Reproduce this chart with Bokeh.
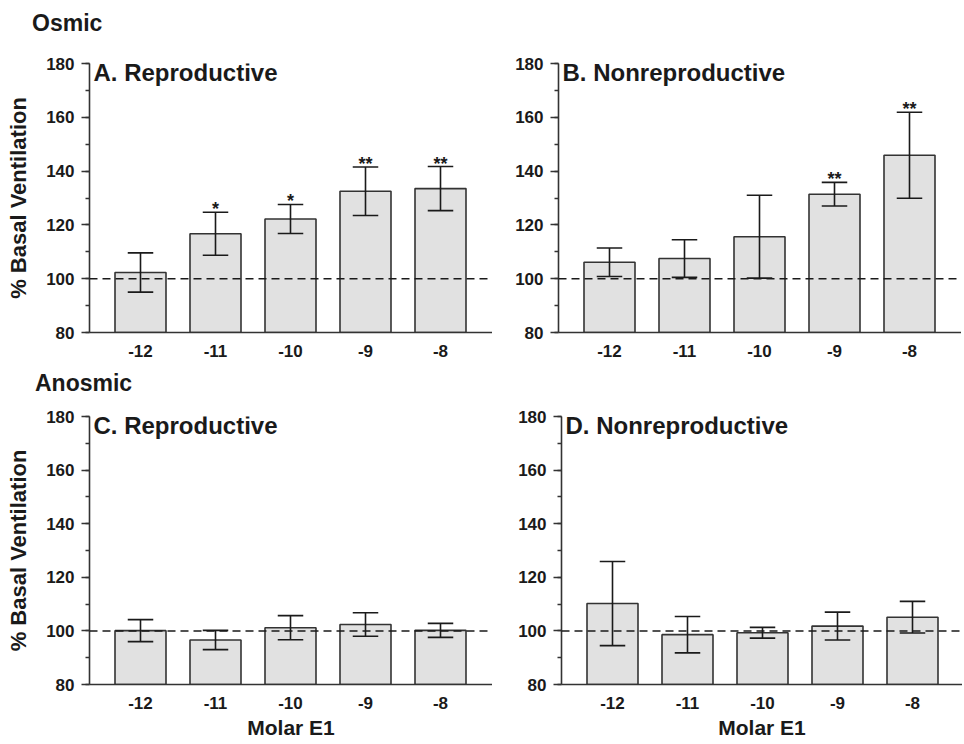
from bokeh.plotting import figure
from bokeh.models import Range1d, Span, Label, FixedTicker, SingleIntervalTicker, ColumnDataSource, Div
from bokeh.layouts import row, column
from bokeh.embed import file_html
from bokeh.resources import INLINE
from bokeh.core.properties import value

# ---- data ----
concentrations = ["-12", "-11", "-10", "-9", "-8"]

a_mean = [102.3, 116.7, 122.2, 132.5, 133.5]
a_sem = [7.3, 8.0, 5.4, 9.0, 8.2]
a_sig = ["", "*", "*", "**", "**"]

b_mean = [106.1, 107.5, 115.6, 131.4, 145.9]
b_sem = [5.3, 7.0, 15.4, 4.4, 16.0]
b_sig = ["", "", "", "**", "**"]

c_mean = [100.1, 96.6, 101.2, 102.4, 100.2]
c_sem = [4.1, 3.6, 4.5, 4.4, 2.6]
c_sig = ["", "", "", "", ""]

d_mean = [110.2, 98.6, 99.3, 101.8, 105.1]
d_sem = [15.7, 6.8, 2.0, 5.2, 5.9]
d_sig = ["", "", "", "", ""]

baseline_pct = 100
y_min, y_max = 80, 180
y_tick_step = 20

panel_titles = ["A. Reproductive", "B. Nonreproductive", "C. Reproductive", "D. Nonreproductive"]
group_titles = ["Osmic", "Anosmic"]
y_title = "% Basal Ventilation"
x_title = "Molar E1"

FONT = "Liberation Sans"
INK = "#1a1a1a"
BAR_W = 0.68
CAP_HALF = 0.17
PX_PER_UNIT = 75.0


def make_panel(mean, sem, sig, title, left_border, top_border, bottom_border,
               frame_w, frame_h, x_standoff, ylabel=None, xlabel=None):
    xs = list(range(1, len(concentrations) + 1))
    p = figure(frame_width=frame_w, frame_height=frame_h,
               x_range=Range1d(0.32, 0.32 + frame_w / PX_PER_UNIT),
               y_range=Range1d(y_min, y_max),
               min_border_left=left_border, min_border_right=0,
               min_border_top=top_border, min_border_bottom=bottom_border,
               output_backend="svg", toolbar_location=None)
    p.outline_line_color = None
    p.grid.visible = False
    p.background_fill_color = "white"
    p.border_fill_color = "white"

    lo = [m - s for m, s in zip(mean, sem)]
    hi = [m + s for m, s in zip(mean, sem)]
    src = ColumnDataSource(dict(
        x=xs, mean=mean, lo=lo, hi=hi,
        cl=[x - CAP_HALF for x in xs], cr=[x + CAP_HALF for x in xs],
        sig=sig))

    p.vbar(x="x", top="mean", bottom=y_min, width=BAR_W, fill_color="#e1e1e1",
           line_color="#333333", line_width=1.6, source=src)
    p.add_layout(Span(location=baseline_pct, dimension="width", line_color=INK,
                      line_width=1.5, line_dash="8 5"))
    p.segment(x0="x", y0="lo", x1="x", y1="hi", line_color=INK, line_width=1.6, source=src)
    p.segment(x0="cl", y0="hi", x1="cr", y1="hi", line_color=INK, line_width=1.6, source=src)
    p.segment(x0="cl", y0="lo", x1="cr", y1="lo", line_color=INK, line_width=1.6, source=src)
    p.text(x="x", y="hi", text="sig", text_align="center", text_baseline="alphabetic",
           y_offset=-3, text_font=value(FONT), text_font_style="bold",
           text_font_size="18px", text_color=INK, source=src)

    # y axis
    yax = p.yaxis[0]
    yax.ticker = SingleIntervalTicker(interval=y_tick_step, num_minor_ticks=2)
    yax.major_tick_out = 8
    yax.major_tick_in = 0
    yax.minor_tick_out = 4
    yax.minor_tick_in = 0
    yax.major_label_standoff = 7
    yax.axis_line_width = 1.6
    yax.axis_line_color = "#333333"
    yax.major_tick_line_color = "#333333"
    yax.major_tick_line_width = 1.5
    yax.minor_tick_line_color = "#333333"
    yax.minor_tick_line_width = 1.5
    yax.major_label_text_font = FONT
    yax.major_label_text_font_style = "bold"
    yax.major_label_text_font_size = "17px"
    yax.major_label_text_color = INK
    if ylabel:
        yax.axis_label = ylabel
        yax.axis_label_text_font = FONT
        yax.axis_label_text_font_style = "bold"
        yax.axis_label_text_font_size = "22px"
        yax.axis_label_text_color = INK
        yax.axis_label_standoff = 12

    # x axis
    xax = p.xaxis[0]
    xax.ticker = FixedTicker(ticks=xs)
    xax.major_label_overrides = {x: c for x, c in zip(xs, concentrations)}
    xax.major_tick_line_color = None
    xax.minor_tick_line_color = None
    xax.major_tick_out = 0
    xax.major_tick_in = 0
    xax.minor_tick_out = 0
    xax.major_label_standoff = x_standoff
    xax.axis_line_width = 1.6
    xax.axis_line_color = "#333333"
    xax.major_label_text_font = FONT
    xax.major_label_text_font_style = "bold"
    xax.major_label_text_font_size = "17px"
    xax.major_label_text_color = INK
    if xlabel:
        xax.axis_label = xlabel
        xax.axis_label_text_font = FONT
        xax.axis_label_text_font_style = "bold"
        xax.axis_label_text_font_size = "21px"
        xax.axis_label_text_color = INK
        xax.axis_label_standoff = 4

    p.add_layout(Label(x=4, y=frame_h - 9, x_units="screen", y_units="screen",
                       text=title, text_font=FONT, text_font_style="bold",
                       text_font_size="24px", text_color=INK,
                       text_baseline="alphabetic", text_align="left"))
    return p


def group_div(text, height, pad_left):
    return Div(text=text, width=300, height=height, margin=0,
               styles={"font-family": FONT, "font-weight": "bold", "font-size": "23px",
                       "line-height": f"{height}px", "padding-left": f"{pad_left}px",
                       "color": INK, "white-space": "nowrap"})


divA = group_div(group_titles[0], 46, 32)
pA = make_panel(a_mean, a_sem, a_sig, panel_titles[0], 89, 17, 31, 403, 269, 12, ylabel=y_title)
pB = make_panel(b_mean, b_sem, b_sig, panel_titles[1], 66, 17, 31, 403, 269, 12)
divC = group_div(group_titles[1], 40, 35)
pC = make_panel(c_mean, c_sem, c_sig, panel_titles[2], 89, 13, 59, 403, 268, 12,
                ylabel=y_title, xlabel=x_title)
pD = make_panel(d_mean, d_sem, d_sig, panel_titles[3], 69, 13, 59, 401, 268, 12,
                xlabel=x_title)

layout = column(divA, row(pA, pB), divC, row(pC, pD), spacing=0)
open("out.html", "w").write(file_html(layout, INLINE))
